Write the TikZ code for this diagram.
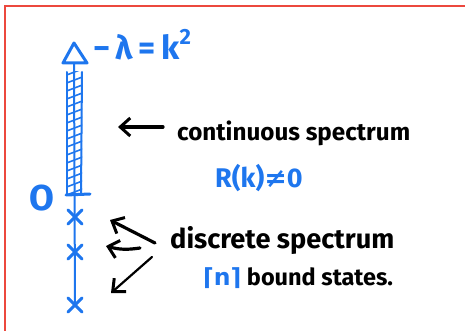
\documentclass[tikz,border=0pt]{standalone}
\usepackage{fontspec}
\setmainfont{Fira Sans}
\newfontfamily\symf{DejaVu Sans}
\usetikzlibrary{arrows.meta}
\definecolor{pen}{RGB}{30,118,238}
\definecolor{framered}{RGB}{236,72,62}
\tikzset{
  blueline/.style={draw=pen, line width=2pt, line cap=round, line join=round},
  bluethick/.style={draw=pen, line width=3pt, line cap=round, line join=round},
  blackarrow/.style={draw=black, line width=3.2pt, line cap=round, -{Straight Barb[length=10pt,width=18pt,line width=3pt]}},
  handtext/.style={inner sep=0pt, anchor=west},
  bluetext/.style={handtext, text=pen},
}
\begin{document}
\begin{tikzpicture}[x=1pt,y=-1pt]
\useasboundingbox (0,0) rectangle (465,331);
% frame
\draw[framered, line width=2.5pt] (5,340) -- (5,6) -- (470,6);
% axis
\coordinate (apex) at (74,43);
\coordinate (zero) at (75,195);
\coordinate (bot) at (75,305);
\draw[blueline] (74,63) -- (bot);
\draw[bluethick] (apex) -- (87,63) -- (63,63) -- cycle;
% hatched bar
\begin{scope}
  \clip (67,72) rectangle (82,195);
  \foreach \y in {60,68,...,200}{
    \draw[blueline, line width=1.6pt] (64,\y+8) -- (85,\y);
  }
\end{scope}
\draw[blueline] (67,72) -- (67,195);
\draw[blueline] (82,72) -- (81,195);
\draw[bluethick] (66,195) -- (90,194);
\node[bluetext, anchor=center, font=\bfseries\fontsize{36}{36}\selectfont] (o) at (42,198) {O};
% crosses
\foreach \n/\y in {c1/217,c2/252,c3/305}{
  \coordinate (\n) at (75,\y);
  \draw[bluethick] ([shift={(-7,-7)}]\n) -- ([shift={(7,7)}]\n);
  \draw[bluethick] ([shift={(-7,7)}]\n) -- ([shift={(7,-7)}]\n);
}
% labels
\node[bluetext, font=\bfseries\fontsize{33}{33}\selectfont] (lam) at (93,45) {−\,λ\,=\,k\raisebox{0.45em}{\fontsize{22}{22}\selectfont 2}};
\node[handtext, font=\bfseries\fontsize{24.2}{24}\selectfont] (cont) at (177,133) {continuous spectrum};
\node[bluetext, font=\bfseries\fontsize{27}{27}\selectfont] (rk) at (215,178) {R(k)\symf≠\fontspec{Fira Sans}\bfseries 0};
\node[handtext, font=\bfseries\fontsize{27.2}{27}\selectfont] (disc) at (170,240) {discrete spectrum};
\node[handtext, font=\bfseries\fontsize{23.5}{23}\selectfont] (bound) at (203,278) {\textcolor{pen}{\symf\bfseries ⌈n⌉}\ bound states.};
% arrows
\coordinate (s0) at (163,127);
\coordinate (a0) at (118,127);
\coordinate (s1) at (155,243);
\coordinate (a1) at (110,220);
\coordinate (s2) at (140,248);
\coordinate (a2) at (106,246);
\coordinate (s3) at (152,257);
\coordinate (a3) at (111,293);
\draw[blackarrow] (s0) -- (a0);
\draw[blackarrow] (s1) -- (a1);
\draw[blackarrow] (s2) to[bend left=12] (a2);
\draw[blackarrow, line width=2.2pt] (s3) -- (a3);
\end{tikzpicture}
\end{document}
